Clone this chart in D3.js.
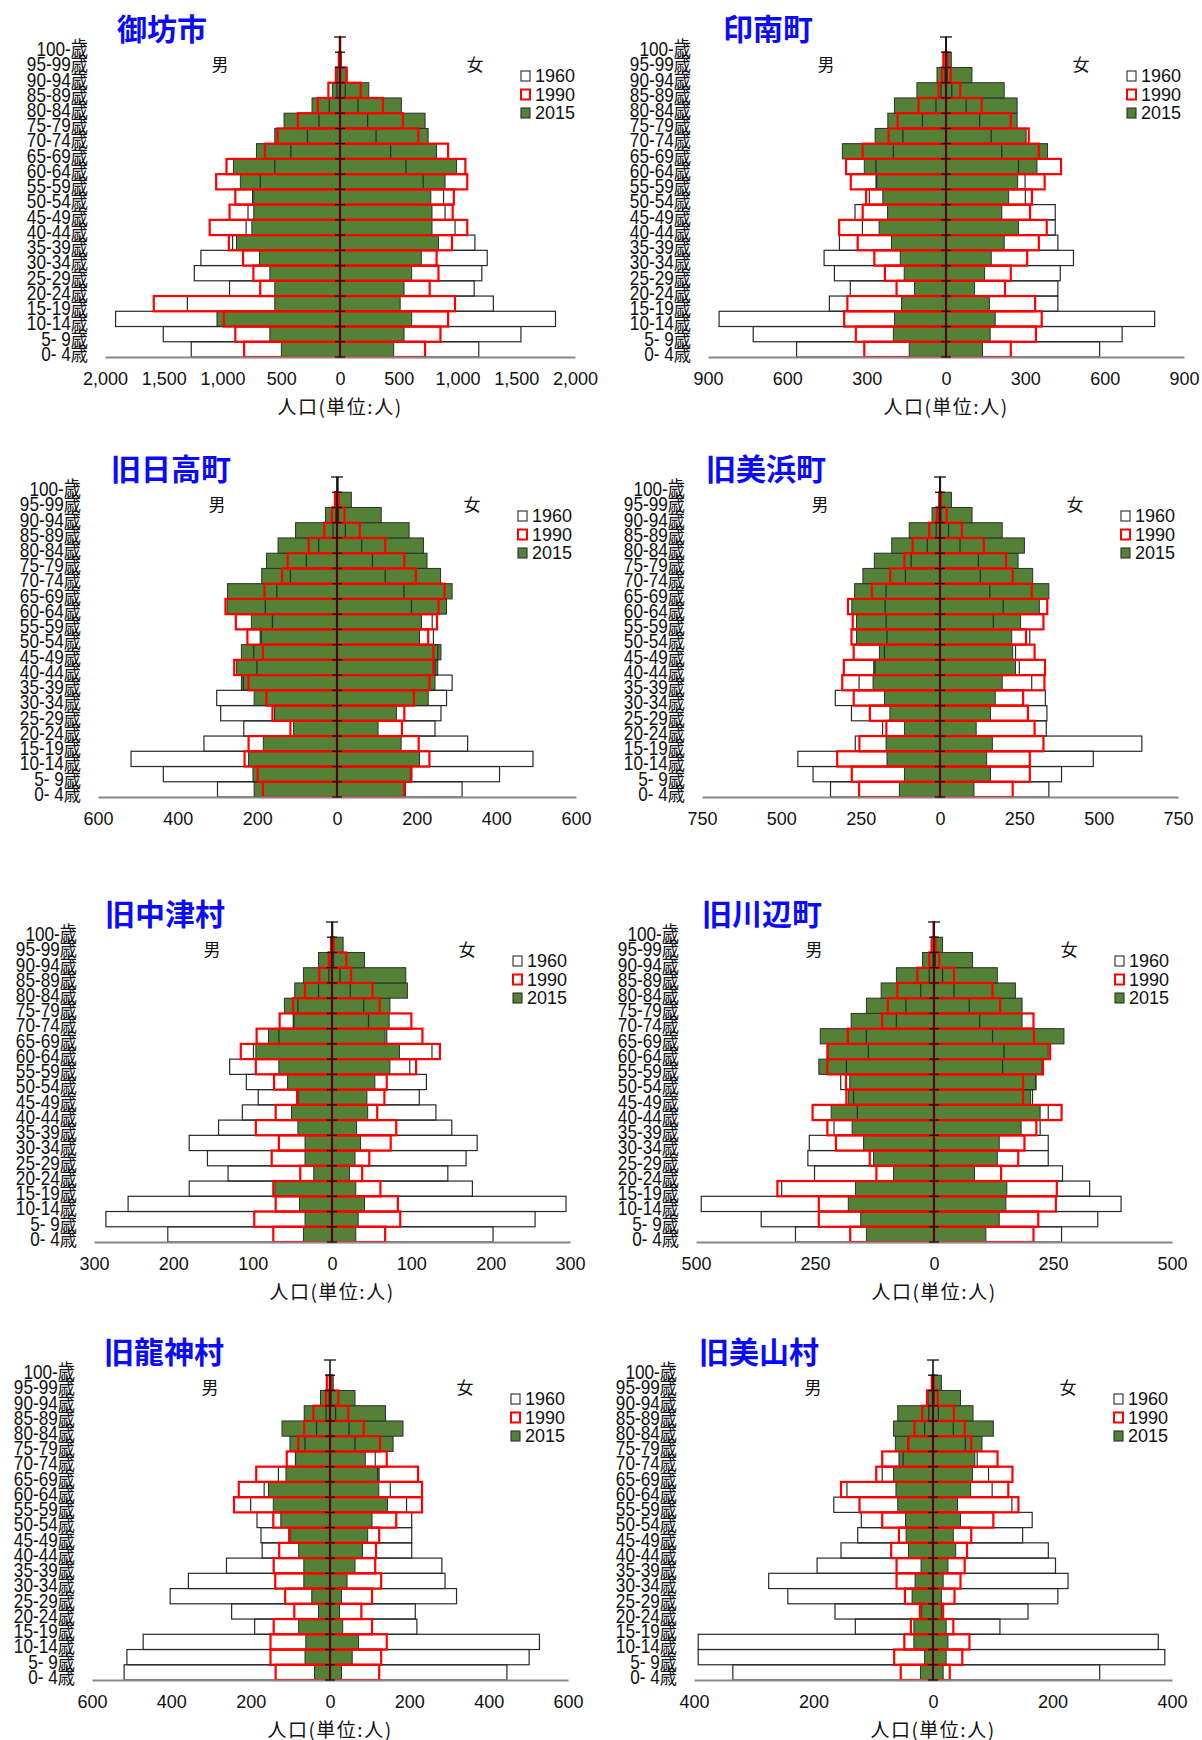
<!DOCTYPE html>
<html>
<head>
<meta charset="utf-8">
<script src="https://cdn.jsdelivr.net/npm/d3@7"></script>
<style>
  body { margin: 0; background: #fff; }
  svg { display: block; }
</style>
</head>
<body>
<div class="pyramids"></div>
<script>
// age groups, youngest first
const ages = ['0- 4', '5- 9', '10-14', '15-19', '20-24', '25-29', '30-34', '35-39', '40-44', '45-49',
  '50-54', '55-59', '60-64', '65-69', '70-74', '75-79', '80-84', '85-89', '90-94', '95-99', '100-'];
const years = ['1960', '1990', '2015'];

// 御坊市
const goboM1960 = [1266, 1504, 1910, 1299, 940, 1240, 1184, 914, 799, 783, 744, 679, 555, 418, 277, 179, 91, 26, 3, 0, 0];
const goboM1990 = [816, 891, 989, 1585, 679, 737, 825, 946, 1109, 940, 891, 1054, 966, 639, 532, 359, 189, 99, 35, 10, 1];
const goboM2015 = [499, 597, 1047, 555, 555, 597, 685, 881, 750, 734, 734, 848, 907, 711, 555, 476, 238, 65, 25, 4, 1];
const goboF1960 = [1181, 1540, 1834, 1305, 1142, 1207, 1253, 1148, 979, 894, 881, 708, 561, 431, 307, 235, 153, 45, 5, 1, 0];
const goboF1990 = [724, 855, 920, 979, 763, 838, 822, 953, 1083, 959, 969, 1083, 1067, 920, 666, 535, 365, 176, 55, 8, 1];
const goboF2015 = [457, 545, 610, 512, 545, 610, 692, 838, 783, 783, 773, 894, 992, 822, 750, 724, 522, 245, 60, 12, 2];

// 印南町
const inamiM1960 = [565, 729, 858, 441, 362, 422, 461, 403, 316, 344, 290, 262, 265, 199, 163, 89, 38, 19, 4, 0, 0];
const inamiM1990 = [309, 341, 385, 373, 187, 231, 271, 334, 404, 315, 302, 360, 378, 315, 217, 183, 104, 28, 15, 10, 0];
const inamiM2015 = [139, 199, 195, 168, 119, 158, 173, 206, 253, 221, 239, 265, 309, 392, 268, 220, 195, 110, 34, 4, 1];
const inamiF1960 = [581, 666, 789, 423, 423, 432, 482, 423, 413, 413, 300, 299, 274, 211, 171, 127, 76, 22, 5, 1, 0];
const inamiF1990 = [245, 340, 362, 337, 223, 245, 307, 351, 381, 318, 325, 373, 435, 351, 313, 245, 135, 54, 18, 5, 0];
const inamiF2015 = [138, 167, 186, 164, 108, 146, 171, 220, 274, 211, 237, 271, 344, 384, 303, 269, 269, 220, 98, 20, 2];

// 旧日高町
const hidakaM1960 = [300, 436, 517, 334, 234, 292, 302, 235, 201, 209, 190, 162, 180, 151, 117, 77, 46, 10, 3, 0, 0];
const hidakaM1990 = [186, 199, 232, 222, 117, 162, 177, 222, 258, 186, 225, 254, 280, 182, 138, 124, 71, 32, 13, 5, 0];
const hidakaM2015 = [208, 211, 222, 185, 109, 157, 208, 240, 252, 240, 193, 215, 276, 275, 189, 177, 148, 104, 29, 3, 0];
const hidakaF1960 = [314, 408, 492, 328, 246, 261, 275, 289, 246, 253, 242, 239, 187, 168, 121, 89, 62, 21, 4, 1, 0];
const hidakaF1990 = [169, 187, 232, 205, 163, 169, 193, 232, 242, 242, 229, 251, 255, 270, 198, 169, 121, 57, 19, 4, 0];
const hidakaF2015 = [172, 184, 207, 161, 103, 149, 229, 246, 253, 261, 207, 212, 275, 289, 260, 226, 217, 181, 111, 36, 3];

// 旧美浜町
const mihamaM1960 = [345, 400, 448, 267, 181, 279, 330, 255, 205, 175, 167, 170, 173, 170, 109, 91, 40, 12, 3, 0, 0];
const mihamaM1990 = [255, 278, 324, 254, 169, 221, 272, 308, 303, 272, 279, 275, 290, 215, 157, 112, 86, 34, 10, 2, 0];
const mihamaM2015 = [128, 112, 167, 170, 112, 158, 175, 211, 209, 191, 263, 263, 278, 269, 243, 207, 152, 97, 25, 3, 1];
const mihamaF1960 = [343, 383, 483, 636, 335, 337, 332, 289, 250, 238, 283, 168, 199, 157, 127, 121, 63, 27, 3, 1, 0];
const mihamaF1990 = [229, 283, 283, 326, 298, 277, 262, 329, 331, 298, 271, 326, 338, 289, 229, 208, 138, 69, 21, 3, 0];
const mihamaF2015 = [107, 159, 147, 165, 114, 159, 174, 196, 238, 229, 226, 254, 313, 343, 292, 246, 266, 196, 101, 36, 2];

// 旧中津村
const nakatsuM1960 = [207, 285, 257, 180, 131, 157, 180, 143, 113, 93, 108, 129, 99, 67, 48, 43, 17, 4, 1, 0, 0];
const nakatsuM1990 = [74, 98, 71, 74, 40, 76, 67, 96, 71, 44, 73, 96, 115, 95, 66, 49, 34, 16, 4, 1, 0];
const nakatsuM2015 = [36, 34, 41, 72, 23, 34, 34, 43, 51, 42, 56, 67, 96, 80, 49, 60, 47, 36, 17, 2, 0];
const nakatsuF1960 = [203, 256, 295, 177, 146, 169, 183, 151, 131, 110, 119, 98, 126, 69, 46, 40, 23, 10, 2, 0, 0];
const nakatsuF1990 = [67, 86, 83, 61, 38, 47, 74, 81, 57, 66, 69, 106, 136, 114, 100, 60, 51, 24, 18, 2, 0];
const nakatsuF2015 = [30, 33, 41, 30, 22, 29, 36, 31, 45, 44, 54, 73, 85, 67, 72, 73, 95, 93, 41, 14, 1];

// 旧川辺町
const kawabeM1960 = [291, 363, 489, 320, 251, 265, 262, 210, 161, 169, 196, 184, 138, 142, 79, 59, 28, 10, 2, 0, 0];
const kawabeM1990 = [176, 242, 242, 329, 121, 135, 206, 224, 255, 184, 185, 224, 224, 181, 109, 97, 77, 35, 10, 5, 1];
const kawabeM2015 = [142, 154, 180, 165, 85, 127, 148, 172, 216, 180, 177, 242, 223, 239, 174, 142, 111, 79, 24, 2, 0];
const kawabeF1960 = [268, 344, 393, 327, 270, 240, 240, 223, 240, 207, 214, 144, 147, 123, 96, 74, 42, 18, 3, 0, 0];
const kawabeF1990 = [209, 219, 256, 258, 141, 177, 190, 215, 268, 187, 187, 229, 244, 210, 209, 139, 123, 42, 11, 3, 0];
const kawabeF2015 = [109, 137, 151, 153, 85, 133, 137, 183, 223, 203, 214, 227, 240, 273, 185, 185, 171, 133, 81, 18, 1];

// 旧龍神村
const ryujinM1960 = [519, 512, 471, 190, 248, 403, 357, 261, 171, 174, 184, 200, 166, 130, 87, 63, 34, 10, 2, 0, 0];
const ryujinM1990 = [137, 150, 150, 142, 90, 113, 138, 142, 128, 103, 143, 242, 230, 186, 109, 80, 65, 42, 10, 8, 0];
const ryujinM2015 = [39, 63, 61, 79, 29, 46, 66, 66, 79, 99, 124, 143, 155, 111, 87, 101, 121, 65, 24, 2, 0];
const ryujinF1960 = [446, 502, 528, 219, 215, 319, 290, 282, 206, 206, 206, 193, 152, 120, 114, 63, 48, 14, 3, 0, 0];
const ryujinF1990 = [124, 129, 143, 106, 79, 106, 129, 114, 116, 124, 167, 232, 232, 222, 143, 126, 85, 46, 21, 3, 0];
const ryujinF2015 = [29, 56, 72, 32, 24, 29, 43, 63, 82, 95, 106, 145, 123, 124, 89, 159, 184, 140, 63, 8, 0];

// 旧美山村
const miyamaM1960 = [335, 393, 393, 130, 164, 243, 275, 194, 154, 126, 120, 166, 144, 85, 50, 42, 14, 7, 1, 0, 0];
const miyamaM1990 = [54, 65, 48, 37, 22, 47, 61, 61, 70, 57, 85, 123, 154, 95, 85, 41, 31, 18, 10, 2, 0];
const miyamaM2015 = [21, 14, 32, 32, 19, 35, 30, 20, 41, 45, 46, 59, 62, 66, 57, 63, 66, 59, 8, 1, 0];
const miyamaF1960 = [279, 388, 377, 112, 159, 209, 226, 205, 193, 150, 166, 132, 99, 93, 74, 54, 34, 9, 2, 0, 0];
const miyamaF1990 = [28, 49, 61, 34, 17, 36, 46, 53, 57, 64, 101, 143, 126, 133, 108, 64, 53, 35, 8, 1, 0];
const miyamaF2015 = [17, 22, 25, 22, 14, 14, 17, 25, 38, 34, 46, 41, 63, 66, 70, 82, 101, 67, 46, 14, 0];

const panels = [
  { name: '御坊市', m: [goboM1960, goboM1990, goboM2015], f: [goboF1960, goboF1990, goboF2015], max: 2000, step: 500 },
  { name: '印南町', m: [inamiM1960, inamiM1990, inamiM2015], f: [inamiF1960, inamiF1990, inamiF2015], max: 900, step: 300 },
  { name: '旧日高町', m: [hidakaM1960, hidakaM1990, hidakaM2015], f: [hidakaF1960, hidakaF1990, hidakaF2015], max: 600, step: 200 },
  { name: '旧美浜町', m: [mihamaM1960, mihamaM1990, mihamaM2015], f: [mihamaF1960, mihamaF1990, mihamaF2015], max: 750, step: 250 },
  { name: '旧中津村', m: [nakatsuM1960, nakatsuM1990, nakatsuM2015], f: [nakatsuF1960, nakatsuF1990, nakatsuF2015], max: 300, step: 100 },
  { name: '旧川辺町', m: [kawabeM1960, kawabeM1990, kawabeM2015], f: [kawabeF1960, kawabeF1990, kawabeF2015], max: 500, step: 250 },
  { name: '旧龍神村', m: [ryujinM1960, ryujinM1990, ryujinM2015], f: [ryujinF1960, ryujinF1990, ryujinF2015], max: 600, step: 200 },
  { name: '旧美山村', m: [miyamaM1960, miyamaM1990, miyamaM2015], f: [miyamaF1960, miyamaF1990, miyamaF2015], max: 400, step: 200 }
];

// where each pyramid sits on the page
const layout = [
  { cx: 340, half: 235, top: 37, titleX: 117, axisTitle: true },
  { cx: 946, half: 238, top: 37, titleX: 723, axisTitle: true },
  { cx: 337, half: 239, top: 477, titleX: 111, axisTitle: false },
  { cx: 940, half: 238, top: 477, titleX: 706, axisTitle: false },
  { cx: 332, half: 238, top: 922, titleX: 105, axisTitle: true },
  { cx: 934, half: 238, top: 922, titleX: 702, axisTitle: true },
  { cx: 330, half: 238, top: 1360, titleX: 104, axisTitle: true },
  { cx: 933, half: 239, top: 1360, titleX: 699, axisTitle: true }
];

const plotH = 320;
const GREEN = '#538135';
const latin = '"Liberation Sans", Arial, "Noto Sans CJK JP", sans-serif';
const cjk = '"Noto Sans CJK JP", sans-serif';

// 1960 white box, 1990 red box, 2015 green fill; drawn green first, then outlines on top
const styles = {
  '1960': { fill: 'none', stroke: '#2a2a2a', sw: 1.2 },
  '1990': { fill: 'none', stroke: '#ff0000', sw: 2.2 },
  '2015': { fill: GREEN, stroke: '#2f2f2f', sw: 1 }
};
const drawOrder = [2, 0, 1];

let svg = d3.select('.pyramids').append('svg')
  .attr('width', 1202)
  .attr('height', 1740);

const draw = (p, lay) => {
  const g = svg.append('g');
  const bottom = lay.top + plotH;

  const x = d3.scaleLinear()
    .domain([-p.max, p.max])
    .range([lay.cx - lay.half, lay.cx + lay.half]);
  const y = d3.scaleBand()
    .domain(ages.slice().reverse())
    .range([lay.top, bottom]);

  drawOrder.forEach(k => {
    const st = styles[years[k]];
    const rows = ages.map((a, i) => ({ age: a, m: p.m[k][i], f: p.f[k][i] }));
    const sg = g.append('g');
    sg.selectAll('rect.m')
      .data(rows.filter(d => d.m > 0))
      .join('rect')
      .attr('class', 'm')
      .attr('x', d => x(-d.m))
      .attr('y', d => y(d.age))
      .attr('width', d => x(0) - x(-d.m))
      .attr('height', y.bandwidth())
      .attr('fill', st.fill)
      .attr('stroke', st.stroke)
      .attr('stroke-width', st.sw);
    sg.selectAll('rect.f')
      .data(rows.filter(d => d.f > 0))
      .join('rect')
      .attr('class', 'f')
      .attr('x', x(0))
      .attr('y', d => y(d.age))
      .attr('width', d => x(d.f) - x(0))
      .attr('height', y.bandwidth())
      .attr('fill', st.fill)
      .attr('stroke', st.stroke)
      .attr('stroke-width', st.sw);
  });

  // x-axis
  const fmt = d3.format(',');
  const xAxis = g.append('g')
    .attr('transform', `translate(0,${bottom})`)
    .call(d3.axisBottom(x)
      .tickValues(d3.range(-p.max, p.max + 1, p.step))
      .tickFormat(d => fmt(Math.abs(d)))
      .tickSize(0)
      .tickPadding(15));
  xAxis.select('.domain').attr('stroke', '#888').attr('stroke-width', 2);
  xAxis.selectAll('text')
    .attr('font-family', latin)
    .attr('font-size', 18)
    .attr('fill', '#111');

  // age labels, narrow like the original
  const yAxis = g.append('g')
    .attr('transform', `translate(${lay.cx - lay.half - 17},5)`)
    .call(d3.axisLeft(y).tickSize(0).tickPadding(0).tickFormat(d => d + '歳'));
  yAxis.select('.domain').remove();
  yAxis.selectAll('text')
    .attr('font-family', latin)
    .attr('font-size', 20)
    .attr('fill', '#111')
    .attr('transform', 'scale(0.86,1)');

  // centre axis with a tick at every band edge
  const edges = d3.range(ages.length + 1).map(i => lay.top + i * y.bandwidth());
  g.append('line')
    .attr('x1', x(0)).attr('x2', x(0))
    .attr('y1', lay.top).attr('y2', bottom)
    .attr('stroke', '#111').attr('stroke-width', 1.6);
  g.selectAll('line.tk')
    .data(edges)
    .join('line')
    .attr('class', 'tk')
    .attr('x1', (d, i) => x(0) - (i === 0 ? 6 : 5))
    .attr('x2', (d, i) => x(0) + (i === 0 ? 6 : 5))
    .attr('y1', d => d).attr('y2', d => d)
    .attr('stroke', '#111').attr('stroke-width', 1.3);

  g.append('text')
    .attr('x', lay.titleX)
    .attr('y', lay.top - 10)
    .attr('dominant-baseline', 'central')
    .attr('font-family', cjk)
    .attr('font-weight', 'bold')
    .attr('font-size', 30)
    .attr('fill', '#0a0aff')
    .text(p.name);

  g.append('text')
    .attr('x', x(0) - 120).attr('y', lay.top + 26)
    .attr('text-anchor', 'middle').attr('dominant-baseline', 'central')
    .attr('font-family', cjk).attr('font-size', 17).attr('fill', '#111')
    .text('男');
  g.append('text')
    .attr('x', x(0) + 135).attr('y', lay.top + 26)
    .attr('text-anchor', 'middle').attr('dominant-baseline', 'central')
    .attr('font-family', cjk).attr('font-size', 17).attr('fill', '#111')
    .text('女');

  // legend
  const leg = g.append('g')
    .attr('transform', `translate(${x(0) + 181},${lay.top + 39})`);
  years.forEach((yr, i) => {
    const st = styles[yr];
    leg.append('rect')
      .attr('x', 0).attr('y', i * 18.5 - 5)
      .attr('width', 9).attr('height', 10)
      .attr('fill', yr === '2015' ? GREEN : '#fff')
      .attr('stroke', st.stroke)
      .attr('stroke-width', yr === '1990' ? 2 : 1.1);
    leg.append('text')
      .attr('x', 14).attr('y', i * 18.5)
      .attr('dominant-baseline', 'central')
      .attr('font-family', latin).attr('font-size', 18).attr('fill', '#111')
      .text(yr);
  });

  if (lay.axisTitle) {
    g.append('text')
      .attr('x', x(0)).attr('y', bottom + 48)
      .attr('text-anchor', 'middle').attr('dominant-baseline', 'central')
      .attr('font-family', cjk).attr('font-size', 19).attr('letter-spacing', 1.5)
      .attr('fill', '#111')
      .text('人口(単位:人)');
  }
};

panels.forEach((p, i) => draw(p, layout[i]));
</script>
</body>
</html>
